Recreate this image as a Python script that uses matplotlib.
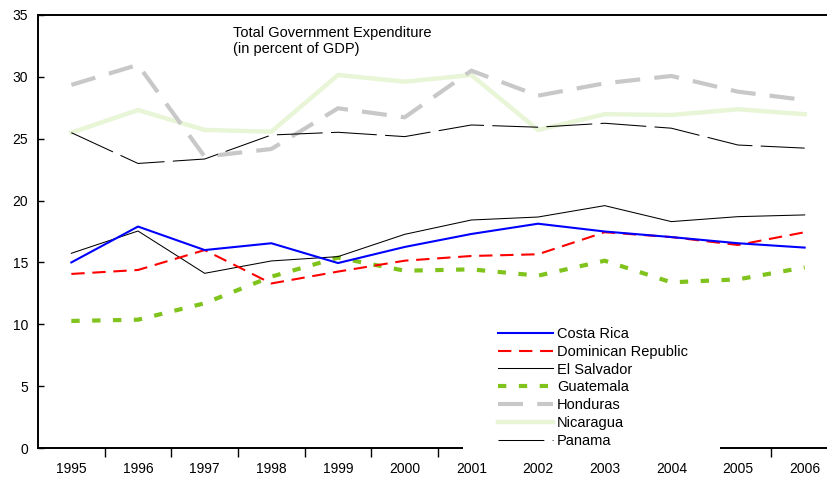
import matplotlib
matplotlib.use("Agg")
import matplotlib.pyplot as plt
from matplotlib.patches import Rectangle

plt.rcParams['font.family'] = ['Liberation Sans', 'DejaVu Sans']

years = ['1995', '1996', '1997', '1998', '1999', '2000',
         '2001', '2002', '2003', '2004', '2005', '2006']

costa_rica = [15.0, 17.9, 16.0, 16.55, 14.95, 16.25, 17.3, 18.13, 17.5, 17.05, 16.55, 16.2]
dominican = [14.07, 14.39, 16.0, 13.3, 14.26, 15.14, 15.52, 15.66, 17.44, 17.05, 16.41, 17.44]
el_salvador = [15.74, 17.54, 14.12, 15.12, 15.47, 17.27, 18.43, 18.67, 19.59, 18.3, 18.7, 18.84]
guatemala = [10.27, 10.37, 11.7, 13.85, 15.39, 14.33, 14.44, 13.93, 15.14, 13.39, 13.63, 14.6]
honduras = [29.35, 30.97, 23.55, 24.17, 27.46, 26.73, 30.5, 28.48, 29.48, 30.07, 28.8, 28.13]
nicaragua = [25.49, 27.32, 25.71, 25.57, 30.15, 29.61, 30.15, 25.71, 26.98, 26.92, 27.38, 26.98]
panama = [25.49, 23.0, 23.36, 25.3, 25.52, 25.17, 26.11, 25.93, 26.25, 25.85, 24.49, 24.24]

W, H = 827, 480
fig = plt.figure(figsize=(W / 100, H / 100), dpi=100)
# axes runs a bit past the right edge of the picture, like the original
ax = fig.add_axes([38 / W, 32 / H, 800 / W, 433 / H])

x = range(len(years))
ax.plot(x, nicaragua, color='#e8f5d6', lw=3.2, label='Nicaragua', zorder=2)
ax.plot(x, honduras, color='#c8c8c8', lw=3.0, dashes=(6, 3.4), label='Honduras', zorder=2)
ax.plot(x, panama, color='black', lw=0.75, dashes=(44, 8), label='Panama', zorder=3)
ax.plot(x, guatemala, color='#7fc31c', lw=3.0, dashes=(2, 3), label='Guatemala', zorder=3)
ax.plot(x, el_salvador, color='black', lw=0.75, label='El Salvador', zorder=3)
ax.plot(x, dominican, color='#ff0000', lw=1.5, dashes=(6.4, 3.7), label='Dominican Republic', zorder=4)
ax.plot(x, costa_rica, color='#0000ff', lw=1.5, label='Costa Rica', zorder=4)

ax.set_xlim(-0.5, 11.5)
ax.set_ylim(0, 35)
ax.set_yticks(range(0, 36, 5))
ax.tick_params(axis='y', direction='in', length=4, width=1, labelsize=10, pad=7)

# tick marks between years, labels centred on years
ax.set_xticks([i + 0.5 for i in range(11)])
ax.set_xticklabels([])
ax.tick_params(axis='x', which='major', direction='out', length=6.5, width=1)
ax.set_xticks(list(x), minor=True)
ax.set_xticklabels(years, minor=True)
ax.tick_params(axis='x', which='minor', length=0, labelsize=10, pad=10)

for s in ax.spines.values():
    s.set_linewidth(1.4)

fig.text(233 / W, 1 - 26 / H, 'Total Government Expenditure\n(in percent of GDP)',
         fontsize=10.5, va='top', ha='left', linespacing=1.2)

# white box behind the legend hides part of the bottom axis, as in the original
ax.add_patch(Rectangle((463 / W, 1 - 458 / H), 257 / W, 160 / H, transform=fig.transFigure,
                       facecolor='white', edgecolor='none', clip_on=False, zorder=4.5))

h, l = ax.get_legend_handles_labels()
order = ['Costa Rica', 'Dominican Republic', 'El Salvador', 'Guatemala',
         'Honduras', 'Nicaragua', 'Panama']
hd = dict(zip(l, h))
leg = ax.legend([hd[k] for k in order], order, loc='upper left',
                bbox_to_anchor=(498 / W, 1 - 327 / H), bbox_transform=fig.transFigure,
                borderaxespad=0, borderpad=0, fontsize=10.5, handlelength=3.75,
                handletextpad=0.3, labelspacing=0.26, frameon=False)

fig.savefig('out.png', dpi=100)
